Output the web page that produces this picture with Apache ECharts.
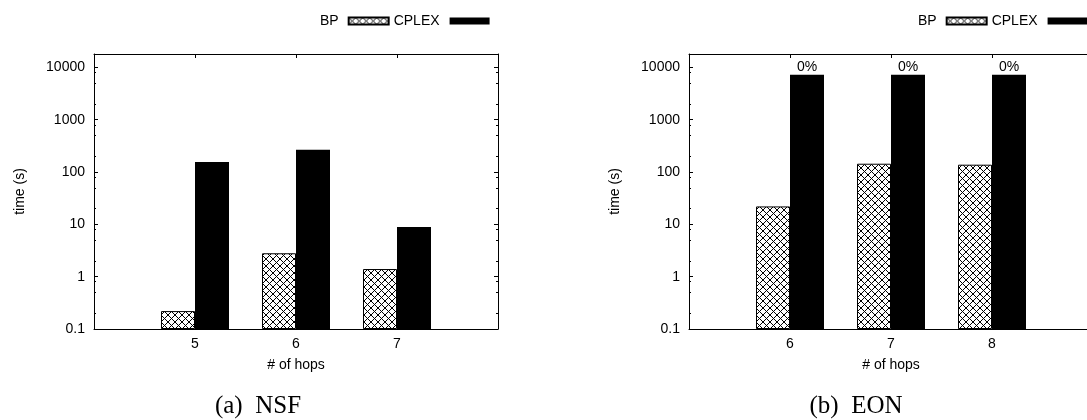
<!DOCTYPE html>
<html>
<head>
<meta charset="utf-8">
<script src="https://cdn.jsdelivr.net/npm/echarts@6/dist/echarts.min.js"></script>
<style>
  html, body { margin: 0; padding: 0; background: #fff; }
  #chart { width: 1087px; height: 420px; }
</style>
</head>
<body>
<div id="chart"></div>
<script>
// Solver run time per hop count, two networks (log-scale seconds)
const seriesNames = ['BP', 'CPLEX'];

const hopsNSF = ['5', '6', '7'];
const bpNSF = [0.22, 2.8, 1.4];
const cplexNSF = [155, 265, 8.9];

const hopsEON = ['6', '7', '8'];
const bpEON = [22, 144, 138];
const cplexEON = [7200, 7200, 7200];
const gapEON = ['0%', '0%', '0%'];

const yMajorTicks = [0.1, 1, 10, 100, 1000, 10000];
const yMinorTicks = [0.2, 0.5, 0.8, 2, 5, 8, 20, 50, 80, 200, 500, 800, 2000, 5000, 8000];

const panelCaptions = ['(a)  NSF', '(b)  EON'];
const xTitle = '# of hops';
const yTitle = 'time (s)';

const Y_MIN = 0.1, Y_MAX = 18000;
const SANS = '"Liberation Sans", Arial, sans-serif';
const INK = '#000';

// Cross-hatch fill for the BP bars
function crossHatch() {
  const s = 7;
  const c = document.createElement('canvas');
  c.width = s; c.height = s;
  const g = c.getContext('2d');
  g.fillStyle = '#fff';
  g.fillRect(0, 0, s, s);
  g.strokeStyle = '#000';
  g.lineWidth = 1;
  g.beginPath();
  g.moveTo(-1, -1); g.lineTo(s + 1, s + 1);
  g.moveTo(s + 1, -1); g.lineTo(-1, s + 1);
  g.stroke();
  return { image: c, repeat: 'repeat' };
}
const hatch = crossHatch();

// One empty slot on each side of the hop categories
function padCats(h) {
  return [String(+h[0] - 1)].concat(h, [String(+h[h.length - 1] + 1)]);
}
function padVals(v) { return ['-'].concat(v, ['-']); }

const panels = [
  { left: 94, hops: hopsNSF, bp: bpNSF, cplex: cplexNSF, legendLeft: 315, captionX: 258 },
  { left: 689, hops: hopsEON, bp: bpEON, cplex: cplexEON, legendLeft: 913, captionX: 856, gaps: gapEON }
];

const grid = [], xAxis = [], yAxis = [], series = [], legend = [], graphic = [];

panels.forEach((p, i) => {
  grid.push({ left: p.left, top: 54, width: 404, height: 275, outerBoundsMode: 'none', containLabel: false });
  const cats = padCats(p.hops);
  const last = cats.length - 1;

  const xBase = {
    type: 'category', gridIndex: i, data: cats, boundaryGap: false,
    axisLine: { show: true, lineStyle: { color: INK, width: 1 } },
    axisTick: { show: true, inside: true, length: 4, lineStyle: { color: INK } },
    splitLine: { show: false }
  };
  const xb = xAxis.length;
  xAxis.push(Object.assign({}, xBase, {
    position: 'bottom',
    axisLabel: {
      show: true, margin: 8, fontSize: 14, fontFamily: SANS, color: INK,
      formatter: (v, idx) => (idx === 0 || idx === last) ? '' : v
    },
    name: xTitle, nameLocation: 'middle', nameGap: 29,
    nameTextStyle: { fontSize: 14, fontFamily: SANS, color: INK }
  }));
  xAxis.push(Object.assign({}, xBase, { position: 'top', axisLabel: { show: false } }));

  const yBase = {
    type: 'log', logBase: 10, gridIndex: i, min: Y_MIN, max: Y_MAX,
    splitLine: { show: false }
  };
  const yl = yAxis.length;
  // left: labelled decades
  yAxis.push(Object.assign({}, yBase, {
    position: 'left', startValue: Y_MIN,
    axisLine: { show: true, lineStyle: { color: INK, width: 1 } },
    axisTick: { show: true, inside: true, length: 4, customValues: yMajorTicks, lineStyle: { color: INK } },
    axisLabel: {
      show: true, customValues: yMajorTicks, margin: 9, fontSize: 14, fontFamily: SANS, color: INK,
      formatter: v => String(+v.toPrecision(6))
    },
    name: yTitle, nameLocation: 'middle', nameGap: 67, nameRotate: 90,
    nameTextStyle: { fontSize: 14, fontFamily: SANS, color: INK }
  }));
  // left: minor ticks
  yAxis.push(Object.assign({}, yBase, {
    position: 'left',
    axisLine: { show: false },
    axisTick: { show: true, inside: true, length: 2, customValues: yMinorTicks, lineStyle: { color: INK } },
    axisLabel: { show: false }
  }));
  // right: mirrored ticks
  yAxis.push(Object.assign({}, yBase, {
    position: 'right',
    axisLine: { show: true, lineStyle: { color: INK, width: 1 } },
    axisTick: { show: true, inside: true, length: 4, customValues: yMajorTicks, lineStyle: { color: INK } },
    axisLabel: { show: false }
  }));
  yAxis.push(Object.assign({}, yBase, {
    position: 'right',
    axisLine: { show: false },
    axisTick: { show: true, inside: true, length: 2, customValues: yMinorTicks, lineStyle: { color: INK } },
    axisLabel: { show: false }
  }));

  series.push({
    name: seriesNames[0], type: 'bar', xAxisIndex: xb, yAxisIndex: yl,
    data: padVals(p.bp), barWidth: 34, barGap: '0%',
    itemStyle: { color: hatch, borderColor: '#000', borderWidth: 1 },
    emphasis: { disabled: true }, animation: false
  });
  const cpl = {
    name: seriesNames[1], type: 'bar', xAxisIndex: xb, yAxisIndex: yl,
    data: padVals(p.cplex), barWidth: 34, barGap: '0%',
    itemStyle: { color: '#000' },
    emphasis: { disabled: true }, animation: false
  };
  if (p.gaps) {
    const gaps = p.gaps;
    cpl.label = {
      show: true, position: 'top', distance: 1,
      fontSize: 14, fontFamily: SANS, color: INK,
      formatter: d => gaps[d.dataIndex - 1] || ''
    };
  }
  series.push(cpl);

  legend.push({
    left: p.legendLeft, top: 9, width: 320, orient: 'horizontal', align: 'right',
    itemWidth: 40, itemHeight: 7, itemGap: 4, icon: 'rect',
    selectedMode: false, data: seriesNames.slice(),
    textStyle: { fontSize: 14, fontFamily: SANS, color: INK, padding: [0, 5, 0, 0] }
  });

  graphic.push({
    type: 'text', x: p.captionX, y: 406, silent: true,
    style: {
      text: panelCaptions[i], fill: '#000',
      font: '25px "Liberation Serif", "Times New Roman", serif',
      align: 'center', verticalAlign: 'middle'
    }
  });
});

const chart = echarts.init(document.getElementById('chart'), null, { renderer: 'canvas' });
chart.setOption({
  backgroundColor: '#fff',
  animation: false,
  grid, xAxis, yAxis, series, legend, graphic
});
</script>
</body>
</html>
